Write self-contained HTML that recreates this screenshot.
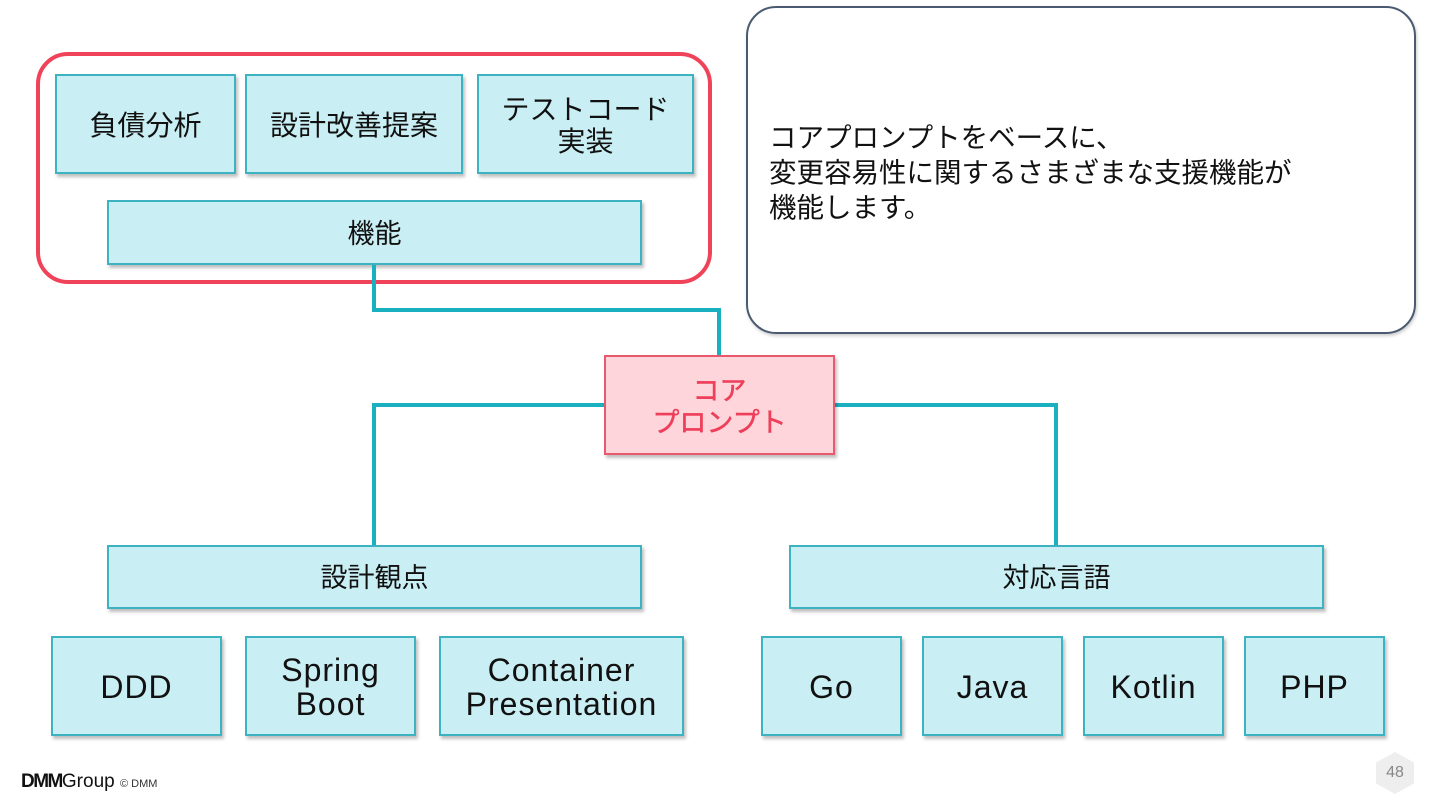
<!DOCTYPE html>
<html><head><meta charset="utf-8"><style>
body{margin:0;width:1440px;height:810px;background:#fff;position:relative;overflow:hidden;font-family:"Liberation Sans","Noto Sans CJK JP",sans-serif;color:#111}
.b{position:absolute;box-sizing:border-box;background:#c9eef3;border:2px solid #3db3c2;box-shadow:2px 3px 3px rgba(0,0,0,.25);display:flex;align-items:center;justify-content:center;text-align:center;font-size:28px;line-height:1.15;padding-top:4px}
.e{font-size:32px;line-height:1.05;letter-spacing:1px}
.l{position:absolute;background:#1ab0c0}
</style></head><body>
<div style="position:absolute;left:36px;top:52px;width:676px;height:232px;box-sizing:border-box;border:4px solid #f0435a;border-radius:32px"></div>
<div class="b" style="left:55px;top:74px;width:181px;height:100px">負債分析</div>
<div class="b" style="left:245px;top:74px;width:218px;height:100px">設計改善提案</div>
<div class="b" style="left:477px;top:74px;width:217px;height:100px">テストコード<br>実装</div>
<div class="b" style="left:107px;top:200px;width:535px;height:65px;font-size:27px">機能</div>
<div style="position:absolute;left:746px;top:6px;width:670px;height:328px;box-sizing:border-box;border:2px solid #4a5a70;border-radius:30px;box-shadow:1px 2px 3px rgba(0,0,0,.2)"></div>
<div style="position:absolute;left:769px;top:120px;font-size:27.5px;line-height:35px">コアプロンプトをベースに、<br>変更容易性に関するさまざまな支援機能が<br>機能します。</div>
<div class="l" style="left:372px;top:265px;width:4px;height:47px"></div>
<div class="l" style="left:372px;top:308px;width:349px;height:4px"></div>
<div class="l" style="left:717px;top:308px;width:4px;height:47px"></div>
<div class="l" style="left:372px;top:403px;width:232px;height:4px"></div>
<div class="l" style="left:372px;top:403px;width:4px;height:142px"></div>
<div class="l" style="left:835px;top:403px;width:223px;height:4px"></div>
<div class="l" style="left:1054px;top:403px;width:4px;height:142px"></div>
<div class="b" style="left:604px;top:355px;width:231px;height:100px;background:#fdd5da;border-color:#e8596c;color:#ef3e5a;font-size:27px;line-height:1.2;-webkit-text-stroke:0.5px #ef3e5a">コア<br>プロンプト</div>
<div class="b" style="left:107px;top:545px;width:535px;height:64px;font-size:27px">設計観点</div>
<div class="b" style="left:789px;top:545px;width:535px;height:64px;font-size:27px">対応言語</div>
<div class="b e" style="left:51px;top:636px;width:171px;height:100px">DDD</div>
<div class="b e" style="left:245px;top:636px;width:171px;height:100px">Spring<br>Boot</div>
<div class="b e" style="left:439px;top:636px;width:245px;height:100px">Container<br>Presentation</div>
<div class="b e" style="left:761px;top:636px;width:141px;height:100px">Go</div>
<div class="b e" style="left:922px;top:636px;width:141px;height:100px">Java</div>
<div class="b e" style="left:1083px;top:636px;width:141px;height:100px">Kotlin</div>
<div class="b e" style="left:1244px;top:636px;width:141px;height:100px">PHP</div>
<div style="position:absolute;left:21px;top:771px;font-size:19px;white-space:nowrap"><b style="letter-spacing:-1.5px">DMM</b>Group <span style="font-size:11px;color:#333">© DMM</span></div>
<div style="position:absolute;left:1376px;top:752px;width:38px;height:42px;background:#eee;clip-path:polygon(50% 0,100% 25%,100% 75%,50% 100%,0 75%,0 25%);display:flex;align-items:center;justify-content:center;color:#888;font-size:16px">48</div>
</body></html>
